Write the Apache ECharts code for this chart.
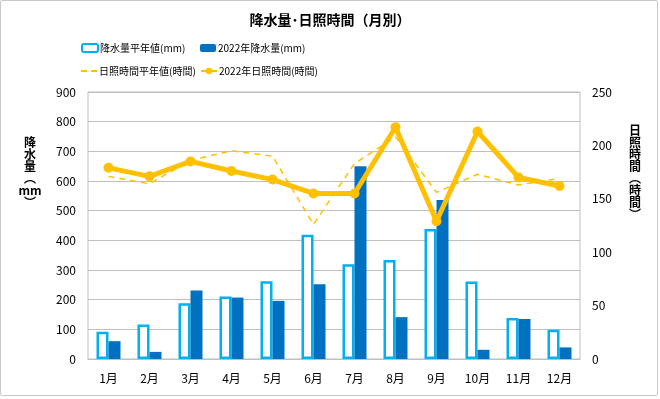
<!DOCTYPE html>
<html>
<head>
<meta charset="utf-8">
<script src="https://cdn.jsdelivr.net/npm/echarts@6/dist/echarts.min.js"></script>
<style>
  html, body { margin: 0; padding: 0; background: #fff; }
  #frame { position: absolute; left: 0; top: 0; width: 656px; height: 394px; border: 1px solid #c8c8c8; border-radius: 2px; }
  #chart { width: 660px; height: 399px; }
</style>
</head>
<body>
<div id="frame"></div>
<div id="chart"></div>
<script>
// Data
const months = ['1月', '2月', '3月', '4月', '5月', '6月', '7月', '8月', '9月', '10月', '11月', '12月'];
const rainNormal = [92, 116, 188, 211, 262, 419, 319, 334, 438, 261, 138, 99];
const rain2022 = [60, 24, 231, 207, 196, 252, 650, 141, 536, 31, 135, 39];
const sunNormal = [171, 164, 186, 195, 190, 126, 183, 208, 156, 173, 163, 169];
const sun2022 = [179, 171, 185, 176, 168, 155, 155, 217, 129, 213, 170, 162];

const FONT = '"Noto Sans CJK JP", "Noto Sans", sans-serif';
const BLUE_LIGHT = '#00B0F0';
const BLUE = '#0070C0';
const GOLD = '#FFC000';

const legendBase = {
  itemWidth: 16,
  itemHeight: 8,
  itemGap: 4,
  textStyle: { fontFamily: FONT, fontSize: 10, color: '#000', padding: [0, 0, 0, -3] }
};

const option = {
  animation: false,
  textStyle: { fontFamily: FONT },
  title: {
    text: '降水量･日照時間（月別）',
    left: 'center',
    top: 8,
    textStyle: { fontFamily: FONT, fontSize: 14, fontWeight: 'bold', color: '#000' }
  },
  legend: [
    Object.assign({}, legendBase, { left: 76, top: 38, data: ['降水量平年値(mm)'] }),
    Object.assign({}, legendBase, { left: 195, top: 38, data: ['2022年降水量(mm)'] }),
    Object.assign({}, legendBase, {
      left: 76, top: 61, itemHeight: 2,
      data: [{ name: '日照時間平年値(時間)', icon: 'path://M0,0h6v2h-6z M10,0h6v2h-6z' }]
    }),
    Object.assign({}, legendBase, { left: 195, top: 61, data: ['2022年日照時間(時間)'] })
  ],
  grid: {
    left: 88,
    right: 80,
    top: 92,
    bottom: 40,
    show: true,
    borderColor: '#bfbfbf',
    borderWidth: 1
  },
  xAxis: {
    type: 'category',
    data: months,
    axisLine: { lineStyle: { color: '#bfbfbf' } },
    axisTick: { show: false },
    axisLabel: { color: '#000', fontSize: 12, margin: 13 }
  },
  yAxis: [
    {
      type: 'value',
      min: 0, max: 900, interval: 100,
      axisLine: { show: false },
      axisTick: { show: false },
      axisLabel: { color: '#000', fontSize: 12, margin: 12 },
      splitLine: { lineStyle: { color: '#bfbfbf' } }
    },
    {
      type: 'value',
      min: 0, max: 250, interval: 50,
      axisLine: { show: false },
      axisTick: { show: false },
      axisLabel: { color: '#000', fontSize: 12, margin: 12 },
      splitLine: { show: false }
    }
  ],
  graphic: [
    {
      type: 'text', x: 30, y: 136,
      style: { text: '降\n水\n量\n︵\nmm\n︶', fontFamily: FONT, fontSize: 12, fontWeight: 'bold', fill: '#000', lineHeight: 12, align: 'center' }
    },
    {
      type: 'text', x: 635, y: 124,
      style: { text: '日\n照\n時\n間\n︵\n時\n間\n︶', fontFamily: FONT, fontSize: 12, fontWeight: 'bold', fill: '#000', lineHeight: 12, align: 'center' }
    }
  ],
  series: [
    {
      name: '降水量平年値(mm)',
      type: 'bar',
      data: rainNormal,
      barWidth: 12,
      barGap: '0%',
      itemStyle: { color: '#fff', borderColor: BLUE_LIGHT, borderWidth: 2.5 }
    },
    {
      name: '2022年降水量(mm)',
      type: 'bar',
      data: rain2022,
      barWidth: 12,
      barGap: '0%',
      itemStyle: { color: BLUE }
    },
    {
      name: '日照時間平年値(時間)',
      type: 'line',
      yAxisIndex: 1,
      data: sunNormal,
      symbol: 'none',
      lineStyle: { color: GOLD, width: 1.5, type: [6, 5] },
      itemStyle: { color: GOLD },
      z: 3
    },
    {
      name: '2022年日照時間(時間)',
      type: 'line',
      yAxisIndex: 1,
      data: sun2022,
      symbol: 'circle',
      symbolSize: 10,
      lineStyle: { color: GOLD, width: 5 },
      itemStyle: { color: GOLD },
      z: 4
    }
  ]
};

const chart = echarts.init(document.getElementById('chart'));
chart.setOption(option);
window.addEventListener('resize', () => chart.resize());
</script>
</body>
</html>
